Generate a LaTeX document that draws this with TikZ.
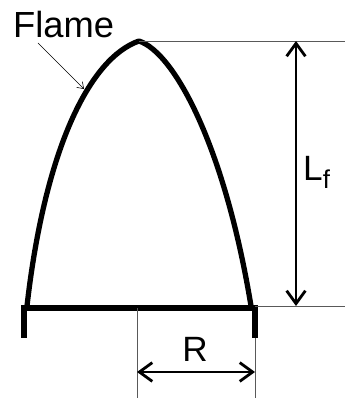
\documentclass[tikz,border=0pt]{standalone}
\usepackage{fontspec}
\setmainfont{Liberation Sans}
\usetikzlibrary{arrows.meta}
\usetikzlibrary{positioning}
\tikzset{
    flame line/.style={line width=4.5pt, line join=round},
    base line/.style={line width=4.5pt, line join=miter},
    guide line/.style={line width=0.8pt, color=black!65},
    dim arrow/.style={line width=2.4pt,
        {Straight Barb[length=11pt,width=16pt,line width=2.4pt]}-{Straight Barb[length=11pt,width=16pt,line width=2.4pt]}},
    pointer/.style={line width=0.5pt, -{Straight Barb[length=5pt,width=7pt]}},
    big label/.style={font=\fontsize{30}{34}\selectfont, inner sep=0pt},
}
\begin{document}
\begin{tikzpicture}[x=0.03cm, y=0.03cm]
        \useasboundingbox (0,0) rectangle (345,398);
        \coordinate (apex) at (139,357);
        \coordinate (footL) at (27,92); % left foot of the flame
        \coordinate (footR) at (251,92); % right foot of the flame
        \coordinate (baseL) at (24,90);
        \coordinate (baseR) at (255,90);
        \coordinate (tickL) at (24,60);
        \coordinate (tickR) at (255,60);
        \coordinate (axis) at (137,90);

        % flame outline
        \draw[flame line] (footL) .. controls (45,250) and (90,340) .. (apex)
                .. controls (175,345) and (225,250) .. (footR);

        % burner base with end ticks
        \draw[base line] (tickL) -- (baseL) -- (baseR) -- (tickR);

        % extension lines
        \coordinate (topEnd) at (345,357);
        \coordinate (botEnd) at (345,92);
        \coordinate (axisEnd) at (137,0);
        \coordinate (rimEnd) at (255,0);
        \draw[guide line] (apex) -- (topEnd);
        \draw[guide line] (baseR |- botEnd) -- (botEnd);
        \draw[guide line] (axis) -- (axisEnd);
        \draw[guide line] (tickR) -- (rimEnd);

        % flame length
        \coordinate (lfTop) at (296,357);
        \coordinate (lfBot) at (296,92);
        \draw[dim arrow] (lfTop) -- (lfBot);
        \node[big label, anchor=base west] (lf) at (303,217) {L\raisebox{-6pt}{\fontsize{22}{24}\selectfont f}};

        % radius
        \coordinate (rL) at (137,26);
        \coordinate (rR) at (255,26);
        \draw[dim arrow] (rL) -- (rR);
        \node[big label, anchor=base] (rlbl) at (195,36) {R};

        % label of the flame
        \node[big label, font=\fontsize{31}{34}\selectfont, anchor=base west] (flamelbl) at (13,360) {Flame};
        \coordinate (flameTail) at (38,355);
        \coordinate (flameTip) at (84,309);
        \draw[pointer] (flameTail) -- (flameTip);
\end{tikzpicture}
\end{document}
